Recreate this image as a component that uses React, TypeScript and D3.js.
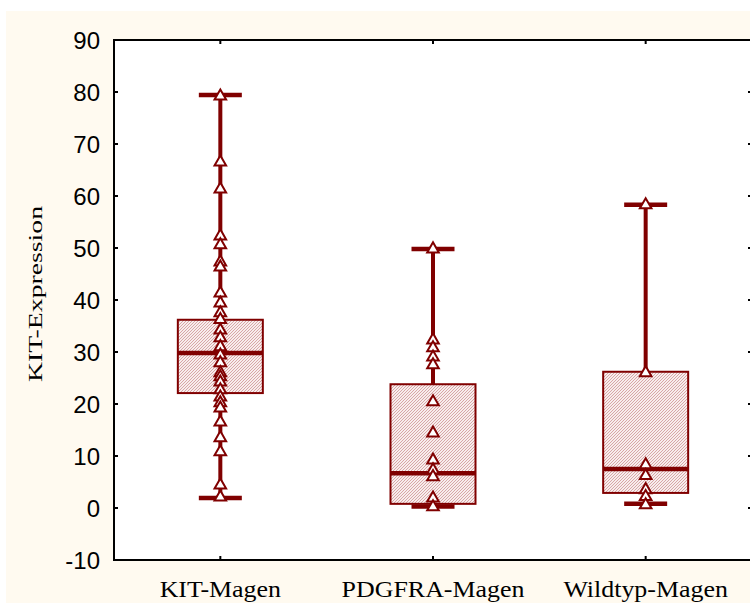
import React from "react";
import * as d3 from "d3";

// Group labels along the x axis
const categories = ["KIT-Magen", "PDGFRA-Magen", "Wildtyp-Magen"];

// Box summary per group
const whiskerLow = [1.9, 0.3, 0.8];
const quartile1 = [22.1, 0.8, 2.9];
const medians = [29.8, 6.7, 7.5];
const quartile3 = [36.2, 23.8, 26.2];
const whiskerHigh = [79.4, 49.8, 58.3];

// Individual observations per group
const kitValues = [
  79.2, 66.5, 61.3, 52.3, 50.6, 47.3, 46.3, 41.3, 39.4, 37.5, 36.2, 34.2, 32.7,
  31.0, 29.4, 27.9, 26.0, 25.2, 24.2, 22.7, 21.3, 20.2, 19.2, 16.5, 13.5, 10.8,
  4.4, 2.1,
];
const pdgfraValues = [49.8, 32.3, 30.8, 29.0, 27.5, 20.4, 14.4, 9.2, 7.3, 6.0, 1.9, 0.2];
const wildtypValues = [58.3, 26.0, 8.3, 6.2, 3.5, 2.2, 0.6];
const groupValues = [kitValues, pdgfraValues, wildtypValues];

const yTicks = [-10, 0, 10, 20, 30, 40, 50, 60, 70, 80, 90];

const W = 750;
const H = 607;
const left = 114;
const right = 752;
const top = 40;
const bottom = 560;
const dark = "#800000";
const serif = "Liberation Serif, Times New Roman, serif";
const sans = "Liberation Sans, Arial, sans-serif";

export default function App() {
  const x = d3.scaleBand<string>().domain(categories).range([left, right]).padding(0);
  const y = d3.scaleLinear().domain([-10, 90]).range([bottom, top]);
  const boxW = 85;
  const capW = 43;
  const tri = d3.symbol(d3.symbolTriangle, 58)() as string;
  const center = (c: string) => (x(c) as number) + x.bandwidth() / 2;

  return (
    <svg
      width={W}
      height={H}
      style={{ position: "absolute", left: 0, top: 0 }}
      xmlns="http://www.w3.org/2000/svg"
    >
      <defs>
        <pattern id="hatch" width="3" height="3" patternUnits="userSpaceOnUse">
          <rect width="3" height="3" fill="#f8eded" />
          <path d="M0,3 L3,0 M-1,1 L1,-1 M2,4 L4,2" stroke="#c88888" strokeWidth="0.7" />
        </pattern>
      </defs>
      <rect x={0} y={0} width={W} height={H} fill="#ffffff" />
      <rect x={6} y={11} width={W - 6} height={592} fill="#fffaf0" />
      <rect x={left} y={top} width={right - left} height={bottom - top} fill="#ffffff" />

      {categories.map((c, i) => {
        const cx = center(c);
        return (
          <g key={c}>
            {/* whiskers */}
            <line x1={cx} x2={cx} y1={y(whiskerHigh[i])} y2={y(quartile3[i])} stroke={dark} strokeWidth={4} />
            <line x1={cx} x2={cx} y1={y(quartile1[i])} y2={y(whiskerLow[i])} stroke={dark} strokeWidth={4} />
            <line x1={cx - capW / 2} x2={cx + capW / 2} y1={y(whiskerHigh[i])} y2={y(whiskerHigh[i])} stroke={dark} strokeWidth={4.5} />
            <line x1={cx - capW / 2} x2={cx + capW / 2} y1={y(whiskerLow[i])} y2={y(whiskerLow[i])} stroke={dark} strokeWidth={4.5} />
            {/* box */}
            <rect
              x={cx - boxW / 2}
              y={y(quartile3[i])}
              width={boxW}
              height={y(quartile1[i]) - y(quartile3[i])}
              fill="url(#hatch)"
              stroke={dark}
              strokeWidth={2}
            />
            <line x1={cx - boxW / 2} x2={cx + boxW / 2} y1={y(medians[i])} y2={y(medians[i])} stroke={dark} strokeWidth={4.5} />
            {/* observations */}
            {groupValues[i].map((v, j) => (
              <path
                key={j}
                d={tri}
                transform={`translate(${cx},${y(v)})`}
                fill="#ffffff"
                stroke={dark}
                strokeWidth={2}
              />
            ))}
          </g>
        );
      })}

      {/* frame */}
      <rect x={left} y={top} width={right - left} height={bottom - top} fill="none" stroke="#000" strokeWidth={2} />
      {yTicks.map((t) => (
        <g key={t}>
          <line x1={left} x2={left + 4} y1={y(t)} y2={y(t)} stroke="#000" strokeWidth={2} />
          <line x1={right - 4} x2={right} y1={y(t)} y2={y(t)} stroke="#000" strokeWidth={2} />
          <text
            x={100}
            y={y(t)}
            dy="0.36em"
            textAnchor="end"
            fontFamily={sans}
            fontSize={24}
            fill="#000"
          >
            {t}
          </text>
        </g>
      ))}
      {categories.map((c) => {
        const cx = center(c);
        return (
          <g key={c}>
            <line x1={cx} x2={cx} y1={bottom} y2={bottom - 4} stroke="#000" strokeWidth={2} />
            <line x1={cx} x2={cx} y1={top} y2={top + 4} stroke="#000" strokeWidth={2} />
            <text
              transform={`translate(${cx},597) scale(1.08,1)`}
              textAnchor="middle"
              fontFamily={serif}
              fontSize={24}
              fill="#000"
            >
              {c}
            </text>
          </g>
        );
      })}
      <text
        transform={`translate(42,294) rotate(-90)`}
        textAnchor="middle"
        fontFamily={serif}
        fontSize={18}
        textLength={176}
        lengthAdjust="spacingAndGlyphs"
        fill="#000"
      >
        KIT-Expression
      </text>
    </svg>
  );
}
